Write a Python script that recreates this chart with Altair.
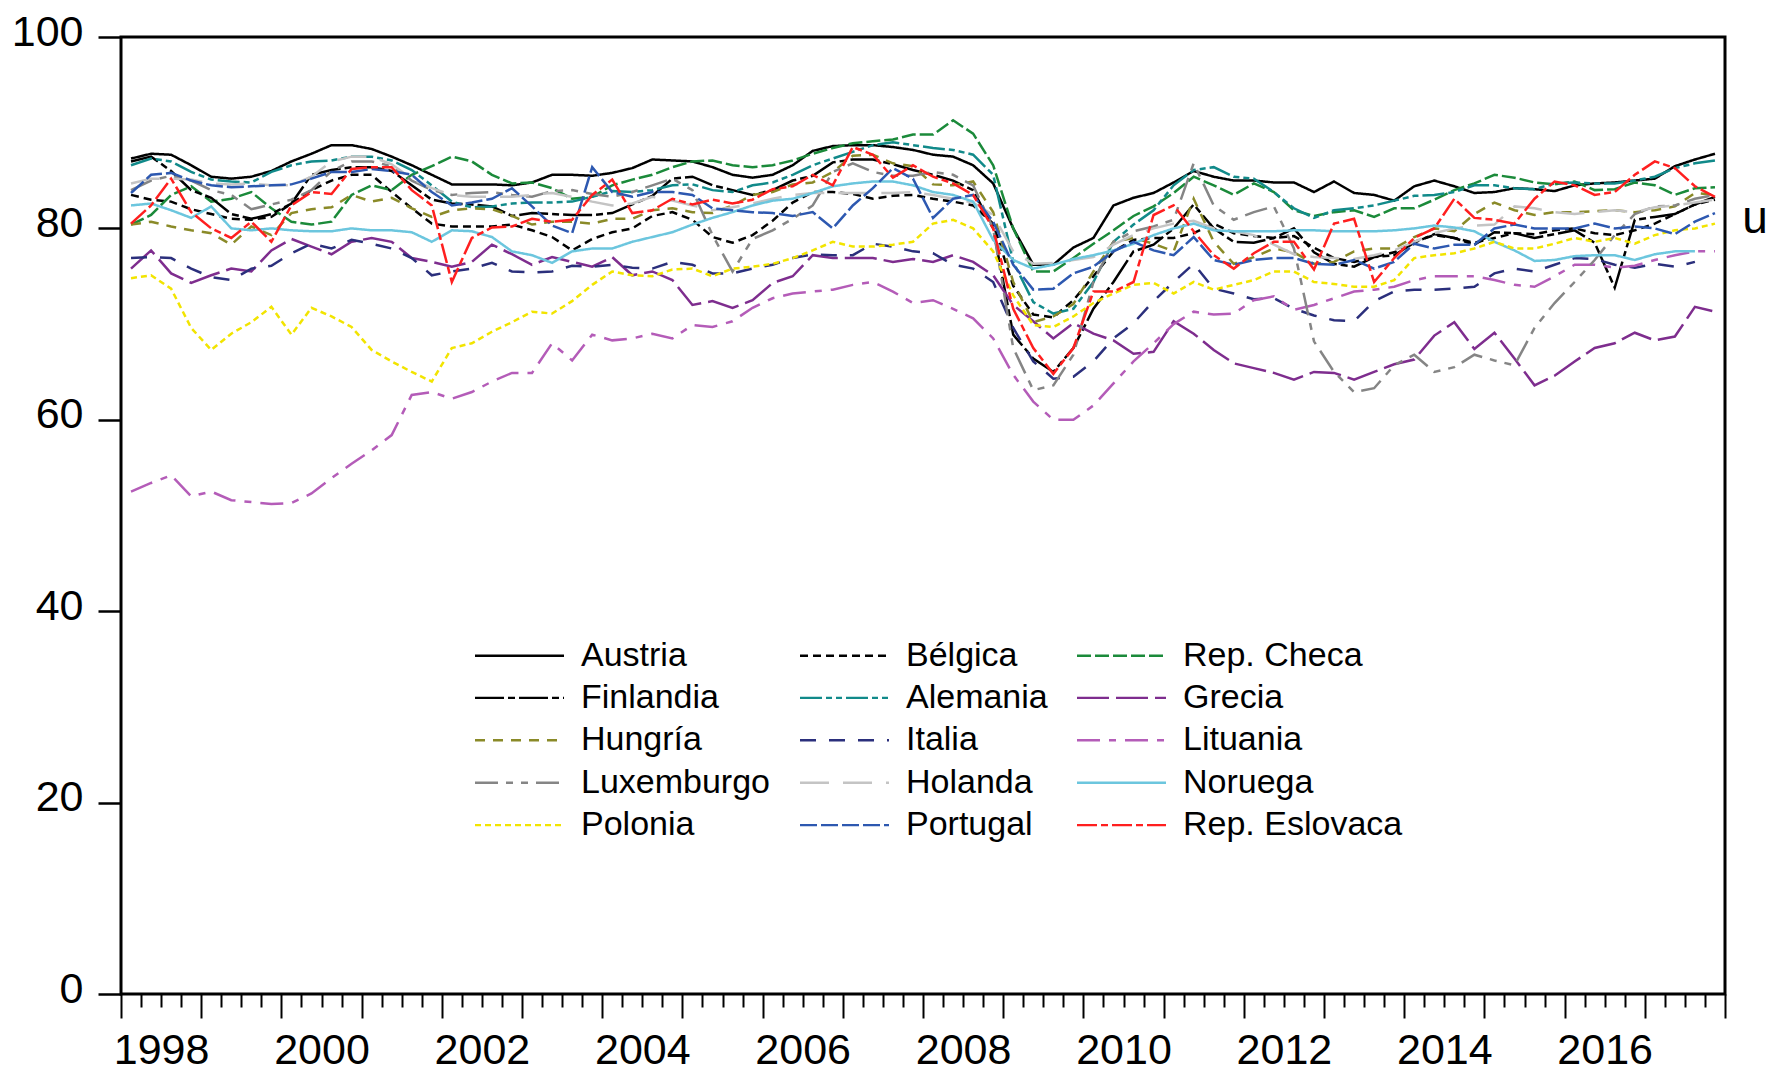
import altair as alt
import pandas as pd

# ---------------- data (quarterly, 1998Q1 .. 2017Q4) ----------------
countries = ["Austria", "Bélgica", "Rep. Checa",
             "Finlandia", "Alemania", "Grecia",
             "Hungría", "Italia", "Lituania",
             "Luxemburgo", "Holanda", "Noruega",
             "Polonia", "Portugal", "Rep. Eslovaca"]

# order of the legend entries (filled column by column, 5 rows)
legend_order = ["Austria", "Finlandia", "Hungría", "Luxemburgo", "Polonia",
                "Bélgica", "Alemania", "Italia", "Holanda", "Portugal",
                "Rep. Checa", "Grecia", "Lituania", "Noruega", "Rep. Eslovaca"]

austria = [87.3,87.8,87.7,86.6,85.4,85.2,85.4,86.0,87.0,87.8,
           88.7,88.7,88.3,87.5,86.6,85.6,84.6,84.6,84.6,84.5,
           84.8,85.6,85.6,85.5,85.8,86.3,87.2,87.1,87.0,86.4,
           85.6,85.3,85.6,86.6,88.1,88.6,88.7,88.7,88.5,88.2,
           87.7,87.5,86.6,84.7,80.0,76.2,76.2,78.0,79.0,82.4,
           83.2,83.7,84.8,86.0,85.4,85.0,85.0,84.8,84.8,83.8,
           84.9,83.7,83.5,82.9,84.4,85.0,84.4,83.7,83.8,84.2,
           84.1,83.9,84.5,84.7,84.8,85.0,85.2,86.5,87.2,87.8]
belgica = [83.5,83.0,82.8,82.0,81.5,81.0,80.9,81.2,82.6,84.0,
           85.0,85.6,85.6,83.8,82.1,80.5,80.2,80.2,80.2,80.4,
           79.8,79.1,77.7,78.9,79.6,80.0,81.3,81.7,80.9,79.1,
           78.5,79.3,80.8,82.7,83.8,83.8,83.6,83.1,83.4,83.5,
           83.1,82.8,82.4,80.5,74.0,71.0,70.7,72.5,75.0,77.6,
           78.8,79.0,79.0,79.5,80.5,79.5,79.2,79.0,79.2,78.0,
           76.9,76.5,77.0,77.5,78.6,79.3,79.0,78.5,79.0,79.5,
           79.4,79.8,80.0,79.5,79.3,79.8,80.5,81.5,82.5,83.0]
checa = [80.4,81.4,83.5,84.4,82.8,83.1,83.8,82.1,80.7,80.4,
         80.7,83.5,84.5,84.0,85.6,86.5,87.5,87.0,85.6,84.7,
         84.8,84.2,83.1,83.3,84.5,85.1,85.6,86.4,87.0,87.1,
         86.6,86.4,86.6,87.1,87.8,88.4,88.9,89.1,89.3,89.8,
         89.8,91.3,89.9,86.6,80.0,75.5,75.5,76.9,78.4,79.8,
         81.3,82.3,83.7,85.4,84.5,83.5,84.7,83.8,81.9,81.3,
         81.7,81.9,81.2,82.1,82.1,83.0,84.0,84.7,85.6,85.3,
         84.8,84.6,84.9,84.0,84.1,84.8,84.5,83.5,84.2,84.3]
finlandia = [87.0,87.5,86.0,84.0,83.2,81.5,81.0,81.5,82.6,85.6,
             86.1,86.4,86.4,86.0,84.5,83.0,82.6,82.5,82.3,81.3,
             81.6,81.5,81.4,81.4,81.6,82.5,83.4,85.2,85.4,84.5,
             84.0,83.5,84.0,85.0,85.5,86.9,87.2,87.2,86.7,86.1,
             85.6,85.0,84.0,80.0,68.9,66.4,65.0,67.5,71.6,74.4,
             77.6,78.3,80.0,82.5,80.0,78.6,78.5,79.0,80.0,77.5,
             76.3,76.0,77.0,77.2,78.5,79.4,79.0,78.3,79.6,79.5,
             79.0,79.4,79.8,78.5,73.8,80.9,81.2,81.5,82.5,83.3]
alemania = [86.6,87.3,87.0,85.9,85.1,84.9,84.8,85.9,86.6,87.0,
            87.1,87.5,87.5,87.1,86.1,84.5,82.8,82.2,82.3,82.6,
            82.7,82.7,82.8,83.3,83.9,83.8,84.0,84.5,84.6,84.0,
            83.8,84.5,84.8,85.6,86.6,87.3,88.0,88.7,89.0,88.7,
            88.4,88.2,87.7,85.6,76.5,72.3,71.1,71.6,74.4,78.6,
            80.4,81.9,84.5,86.1,86.4,85.4,85.2,83.8,82.1,81.1,
            81.9,82.1,82.4,82.9,83.4,83.5,83.8,84.5,84.5,84.2,
            84.1,84.7,84.8,84.7,84.7,85.0,85.4,86.3,86.8,87.1]
grecia = [75.8,77.7,75.3,74.3,75.1,75.8,75.5,77.7,78.9,78.1,
          77.3,78.6,79.0,78.6,76.9,76.5,76.0,76.5,78.3,77.3,
          76.2,77.0,76.5,76.0,77.0,75.1,75.5,74.6,72.0,72.4,
          71.7,72.5,74.3,75.0,77.2,76.9,76.9,76.9,76.5,76.8,
          76.5,77.2,76.5,75.1,72.0,70.3,68.5,70.1,69.0,68.3,
          66.9,67.1,70.3,69.0,67.3,65.9,65.4,64.9,64.2,65.0,
          64.9,64.2,65.0,65.8,66.3,68.8,70.2,67.4,69.1,66.4,
          63.6,64.6,66.1,67.5,68.0,69.1,68.3,68.7,71.8,71.3]
hungria = [80.4,80.7,80.2,79.8,79.5,78.3,80.2,79.3,81.6,82.0,
           82.2,83.5,82.8,83.2,82.1,81.2,81.9,82.1,82.0,81.3,
           80.4,80.7,80.7,80.5,81.0,81.0,81.9,82.1,81.7,81.6,
           82.4,83.5,83.8,84.6,84.8,85.9,87.6,87.7,86.8,86.5,
           84.6,84.5,84.9,81.7,74.4,70.2,70.8,72.1,75.5,78.6,
           79.0,78.4,77.6,83.1,78.6,76.3,77.0,77.9,77.5,76.3,
           76.5,77.6,77.9,77.9,79.1,80.0,79.7,81.5,82.7,81.9,
           81.4,81.7,81.7,81.8,81.9,81.7,81.9,82.3,83.7,83.5]
italia = [76.9,77.0,76.9,75.8,74.9,74.6,75.8,76.1,77.4,78.4,
          77.9,78.8,78.4,77.9,76.9,75.1,75.5,75.8,76.4,75.5,
          75.4,75.5,76.1,76.0,76.2,75.9,75.8,76.5,76.2,75.3,
          75.3,75.8,76.2,76.9,77.3,77.2,77.2,78.4,78.1,77.6,
          77.4,76.2,75.8,74.4,69.6,66.1,64.3,64.5,66.1,68.5,
          70.1,72.4,74.4,76.3,73.7,73.2,72.6,72.7,71.6,70.9,
          70.4,70.3,72.4,73.4,73.6,73.6,73.7,73.9,75.3,75.8,
          75.5,76.2,76.9,76.8,76.2,75.9,76.3,76.0,76.5,None]
lituania = [52.5,53.4,54.2,52.0,52.5,51.6,51.4,51.2,51.3,52.3,
            53.9,55.4,56.8,58.4,62.6,62.9,62.2,62.9,64.0,64.9,
            64.9,68.0,66.2,68.9,68.3,68.5,69.0,68.5,69.9,69.7,
            70.3,71.7,72.7,73.2,73.4,73.6,74.1,74.4,73.4,72.2,
            72.5,71.6,70.6,68.5,64.7,61.9,60.0,60.0,61.5,63.8,
            66.1,68.0,70.0,71.3,71.0,71.1,72.5,72.9,71.5,72.0,
            72.7,73.4,73.6,73.9,74.6,75.0,75.0,75.0,74.6,74.1,
            73.9,75.0,76.2,76.2,75.9,76.1,76.7,77.2,77.6,77.6]
luxemburgo = [84.0,85.0,85.5,85.0,84.0,83.5,82.0,82.5,83.0,84.0,
              86.0,87.0,87.0,86.5,85.0,84.0,83.5,83.7,83.8,83.5,
              83.3,83.9,84.0,83.6,83.3,83.8,84.5,85.2,84.0,79.3,
              75.5,78.9,79.8,81.0,82.4,85.9,86.8,85.9,85.5,85.5,
              85.9,85.6,84.5,80.0,67.5,63.1,63.6,66.8,74.4,78.6,
              79.7,80.2,80.9,86.8,82.4,80.9,81.7,82.3,77.9,68.2,
              65.0,62.9,63.3,65.7,66.8,65.0,65.5,66.8,66.2,65.7,
              69.6,72.2,74.4,76.7,79.3,81.5,82.3,82.4,83.1,83.5]
holanda = [84.7,85.2,85.2,85.1,84.7,84.6,84.7,84.5,84.5,85.4,
           87.0,87.5,87.5,86.7,85.2,84.2,83.5,83.3,83.3,83.3,
           83.5,83.7,83.3,82.8,82.4,82.6,83.3,82.9,82.4,81.9,
           82.2,82.6,83.1,83.5,83.7,83.7,83.7,83.7,83.7,83.8,
           83.5,83.1,82.7,81.4,77.6,76.3,76.4,76.7,77.0,78.3,
           79.3,80.0,80.5,80.8,80.0,79.7,79.3,78.3,77.3,77.0,
           76.9,76.8,77.2,77.7,78.6,79.5,80.0,80.3,80.4,82.3,
           82.1,81.7,81.5,81.7,81.9,81.7,82.2,82.4,82.7,83.0]
noruega = [82.4,82.6,81.9,81.1,82.3,80.0,79.8,80.0,79.8,79.7,
           79.7,80.0,79.8,79.8,79.6,78.6,79.8,79.7,79.1,77.6,
           77.2,76.4,77.6,77.9,77.9,78.6,79.1,79.6,80.4,81.1,
           81.7,82.4,82.9,83.1,83.7,84.4,84.7,84.9,84.9,84.5,
           83.8,83.5,82.8,78.8,76.7,75.8,76.2,76.8,77.2,77.7,
           78.4,79.3,80.0,80.5,79.8,79.7,79.7,79.7,79.8,79.8,
           79.7,79.7,79.7,79.8,80.0,80.3,80.1,79.7,78.6,77.7,
           76.6,76.7,77.1,77.2,77.2,76.7,77.3,77.6,77.6,None]
polonia = [74.8,75.1,73.7,69.6,67.3,69.0,70.2,71.8,68.9,71.7,
           70.8,69.7,67.3,66.1,65.0,64.0,67.5,68.0,69.2,70.2,
           71.3,71.1,72.4,74.1,75.5,75.1,75.0,75.7,75.8,75.0,
           75.8,76.0,76.3,76.9,77.7,78.6,78.1,78.1,78.3,78.6,
           80.5,80.9,80.0,77.6,73.0,69.9,69.7,70.8,72.2,73.2,
           74.1,74.3,73.2,74.4,73.6,74.1,74.6,75.5,75.5,74.4,
           74.2,73.9,73.9,74.6,76.9,77.2,77.4,77.9,78.6,77.9,
           77.9,78.4,79.0,78.6,79.0,78.4,79.3,79.8,80.0,80.5]
portugal = [83.7,85.6,85.8,85.0,84.5,84.3,84.4,84.5,84.6,85.2,
            85.9,85.9,86.2,86.0,85.6,83.8,82.4,82.7,83.1,84.2,
            82.3,80.3,79.5,86.4,83.8,83.3,83.8,83.8,83.5,82.1,
            81.9,81.7,81.6,81.3,81.7,80.0,82.4,84.2,86.3,85.2,
            81.1,83.1,83.5,80.7,76.2,73.6,73.7,75.3,76.0,77.6,
            78.6,77.7,77.2,79.1,76.7,76.2,76.7,76.9,76.9,76.3,
            76.2,76.7,75.8,76.5,78.4,77.9,78.3,78.3,80.0,80.4,
            80.0,80.0,80.0,80.5,80.0,80.2,80.0,79.4,80.7,81.6]
eslovaca = [80.5,82.4,85.2,81.7,80.0,79.0,80.7,78.6,82.4,83.8,
            83.6,86.2,86.4,86.4,84.0,82.4,74.4,79.0,80.1,80.2,
            81.0,80.7,80.9,83.5,85.1,81.6,81.9,83.1,82.5,83.0,
            82.6,83.0,84.1,84.4,85.6,84.5,88.5,87.7,85.3,86.6,
            85.4,84.7,83.5,80.0,71.6,67.5,64.8,67.5,73.4,73.4,
            74.4,81.4,82.4,79.7,77.2,75.8,77.4,78.6,78.6,75.7,
            80.5,81.0,74.4,76.9,79.0,80.0,83.1,81.1,80.9,80.5,
            83.1,84.9,84.5,83.5,83.8,85.6,87.0,86.3,84.4,83.3]

series = [austria, belgica, checa, finlandia, alemania, grecia, hungria,
          italia, lituania, luxemburgo, holanda, noruega, polonia,
          portugal, eslovaca]

colors = ["#000000", "#000000", "#1b8a3a",
          "#000000", "#118a8a", "#7e2d8e",
          "#8a8a28", "#2b2f7c", "#b45cb8",
          "#858585", "#c4c4c4", "#6cc6de",
          "#f2e400", "#2d58b0", "#ff1f1f"]
dashes = [[1, 0], [8, 5], [14, 4],
          [29, 4, 7, 4], [22, 4, 6, 4, 6, 4], [32, 7],
          [10, 8], [16, 13], [23, 9, 7, 9],
          [23, 8, 7, 8, 7, 8], [29, 14], [1, 0],
          [6, 4], [17, 4], [20, 4, 7, 4]]

y_ticks = [0, 20, 40, 60, 80, 100]

# ---------------- table ----------------
rows = []
for k, (name, vals) in enumerate(zip(countries, series)):
    assert len(vals) == 80, (name, len(vals))
    for i, v in enumerate(vals):
        if v is not None:
            rows.append({"pais": name, "t": 1998 + (i + 0.5) / 4, "v": v, "k": k})
df = pd.DataFrame(rows)

color_of = dict(zip(countries, colors))
dash_of = dict(zip(countries, dashes))
legend_colors = [color_of[c] for c in legend_order]
legend_dashes = [dash_of[c] for c in legend_order]

quarter_ticks = [1998 + q / 4 for q in range(81)]
FONT = "Liberation Sans, Arial, sans-serif"

# legend symbol: a long horizontal stroke drawn with a custom path,
# so that the entry height stays small while the sample line stays long
legend = alt.Legend(
    title=None, orient="none", legendX=376, legendY=596, columns=3,
    symbolType="M-2.119,0H2.119", symbolSize=1764, symbolStrokeWidth=2.4,
    labelFont=FONT, labelFontSize=34, labelColor="black", labelOffset=39,
    columnPadding=24, rowPadding=2.4, padding=0, labelLimit=0,
)

lines = alt.Chart(df).mark_line(strokeWidth=2.5).encode(
    x=alt.X("t:Q",
            scale=alt.Scale(domain=[1998, 2018], nice=False, zero=False),
            axis=alt.Axis(values=quarter_ticks, title=None, grid=False, domain=False,
                          tickColor="black", tickWidth=2,
                          tickSize={"condition": {"test": "datum.value % 1 == 0", "value": 24},
                                    "value": 13},
                          labelExpr="((datum.value - 0.5) % 2 == 0) ? toString(datum.value - 0.5) : ''",
                          labelFont=FONT, labelFontSize=43, labelColor="black",
                          labelPadding=22, labelOverlap=False, labelFlush=False,
                          labelBound=False)),
    y=alt.Y("v:Q",
            scale=alt.Scale(domain=[0, 100], nice=False, zero=False),
            axis=alt.Axis(values=y_ticks, title=None, grid=False, domain=False,
                          tickColor="black", tickWidth=2.5, tickSize=23,
                          labelFont=FONT, labelFontSize=43, labelColor="black",
                          labelPadding=15, labelOffset=-5, labelOverlap=False)),
    color=alt.Color("pais:N", scale=alt.Scale(domain=legend_order, range=legend_colors),
                    legend=legend),
    strokeDash=alt.StrokeDash("pais:N", scale=alt.Scale(domain=legend_order, range=legend_dashes),
                              legend=legend),
    order=alt.Order("t:Q"),
)

u_df = pd.DataFrame({"txt": ["u"]})
u_text = alt.Chart(u_df).mark_text(
    font="Liberation Sans", fontSize=46, align="center", baseline="middle", color="black"
).encode(x=alt.value(1634), y=alt.value(182), text="txt:N")

chart = alt.layer(lines, u_text).properties(
    width=1604, height=957,
    background="white",
    autosize=alt.AutoSizeParams(type="none"),
    padding={"left": 113, "top": 29, "right": 44, "bottom": 79},
).configure_view(stroke="black", strokeWidth=3)

chart.save("out.html", embed_options={"renderer": "svg", "actions": False})
